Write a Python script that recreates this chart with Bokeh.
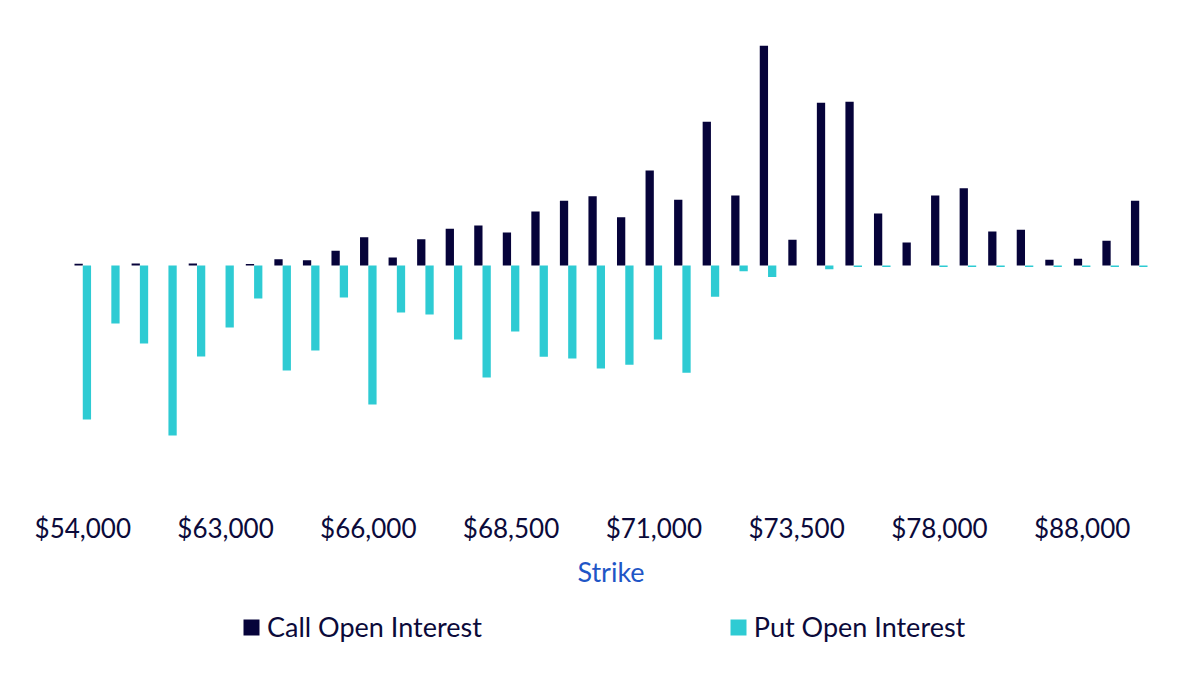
from bokeh.plotting import figure
from bokeh.models import ColumnDataSource, Range1d, Legend, LegendItem, FixedTicker, Title
from bokeh.layouts import column
from bokeh.embed import file_html
from bokeh.resources import INLINE

strikes = [54000, 56000, 58000, 60000, 62000, 63000, 64000, 64500, 65000, 65500,
           66000, 66500, 67000, 67500, 68000, 68500, 69000, 69500, 70000, 70500,
           71000, 71500, 72000, 72500, 73000, 73500, 74000, 75000, 76000, 77000,
           78000, 80000, 82000, 84000, 86000, 88000, 90000, 100000]
call_oi = [17, 0, 20, 0, 20, 0, 15, 63, 53, 147, 283, 80, 263, 367, 400, 330, 540, 647, 693, 483,
           950, 657, 1437, 700, 2197, 257, 1627, 1637, 520, 230, 700, 773, 340, 357, 57, 67, 247, 647]
put_oi = [-1540, -580, -780, -1700, -910, -620, -330, -1050, -850, -320, -1390, -470, -490, -740,
          -1120, -660, -913, -930, -1030, -993, -740, -1073, -313, -57, -115, 0, -37, -15, -15, 0,
          -15, -15, -15, -15, -15, -15, -15, -15]
shown_strikes = [54000, 63000, 66000, 68500, 71000, 73500, 78000, 88000]
series_names = ["Call Open Interest", "Put Open Interest"]
x_title = "Strike"

pos = list(range(len(strikes)))
src = ColumnDataSource(dict(pos=pos, strike=strikes, call=call_oi, put=put_oi,
                            call_x=[i - 0.145 for i in pos], put_x=[i + 0.145 for i in pos]))

FONT = "Lato"
TEXT = "#0b0a3a"
CALL_C = "#06033a"
PUT_C = "#2ecbd3"
FS = "26px"

p = figure(width=1200, height=600, output_backend="svg", toolbar_location=None,
           x_range=Range1d(-0.5, len(strikes) - 0.5),
           y_range=Range1d(-2350, 2250),
           min_border_left=68, min_border_right=47, min_border_top=40, min_border_bottom=100)

p.vbar(x="call_x", top="call", width=0.29, source=src, fill_color=CALL_C, line_color=None)
p.vbar(x="put_x", top="put", width=0.29, source=src, fill_color=PUT_C, line_color=None)

p.yaxis.visible = False
p.xgrid.visible = False
p.ygrid.visible = False
p.outline_line_color = None

tick_pos = [strikes.index(s) for s in shown_strikes]
ax = p.xaxis[0]
ax.ticker = FixedTicker(ticks=tick_pos, minor_ticks=[])
ax.major_label_overrides = {i: f"${strikes[i]:,}" for i in tick_pos}
ax.axis_line_color = None
ax.major_tick_line_color = None
ax.minor_tick_line_color = None
ax.major_tick_in = 0
ax.major_tick_out = 0
ax.major_label_standoff = 11
ax.major_label_text_font = FONT
ax.major_label_text_font_size = FS
ax.major_label_text_color = TEXT

p.add_layout(Title(text=x_title, align="center", offset=9, standoff=12,
                   text_font=FONT, text_font_size="27px", text_font_style="normal",
                   text_color="#1f56c6"), "below")

# legend strip below the chart (frame aligned with the chart's frame)
lg = figure(width=1200, height=79, output_backend="svg", toolbar_location=None,
            x_range=Range1d(-0.5, len(strikes) - 0.5), y_range=Range1d(-2350, 2250),
            min_border_left=68, min_border_right=47, min_border_top=0, min_border_bottom=0)
lg.axis.visible = False
lg.grid.visible = False
lg.outline_line_color = None
l_call = lg.vbar(x="call_x", top="call", width=0.29, source=src, fill_color=CALL_C,
                 line_color=None, visible=False)
l_put = lg.vbar(x="put_x", top="put", width=0.29, source=src, fill_color=PUT_C,
                line_color=None, visible=False)
legend = Legend(items=[LegendItem(label=series_names[0], renderers=[l_call]),
                       LegendItem(label=series_names[1], renderers=[l_put])],
                orientation="horizontal", location=(173, 36), spacing=246,
                glyph_width=20, glyph_height=20, label_standoff=6,
                label_text_font=FONT, label_text_font_size="27px", label_text_color=TEXT,
                border_line_color=None, background_fill_alpha=0, padding=0, margin=0,
                click_policy="none")
lg.add_layout(legend, "center")

open("out.html", "w").write(file_html(column(p, lg, spacing=0), INLINE))
